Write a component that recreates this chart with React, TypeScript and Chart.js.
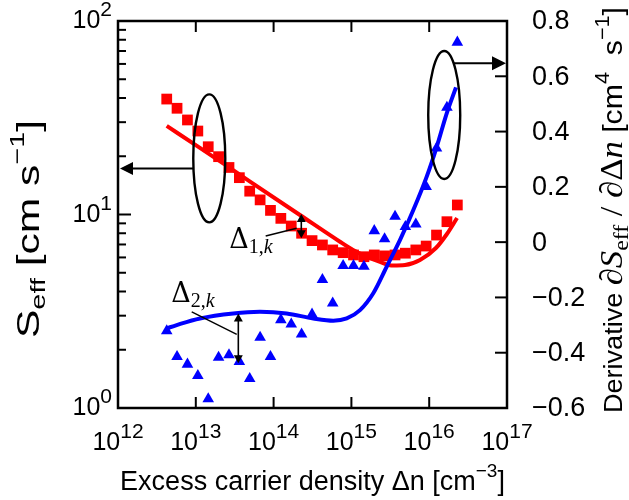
import { useEffect, useRef } from 'react';
import { Chart, registerables } from 'chart.js';

Chart.register(...registerables);

// Excess carrier density grid shared by both measured series [cm^-3]
const densities = [
  4.23e12, 5.74e12, 7.81e12, 1.062e13, 1.445e13, 1.963e13, 2.67e13, 3.63e13, 4.93e13, 6.71e13,
  9.12e13, 1.239e14, 1.686e14, 2.29e14, 3.12e14, 4.24e14, 5.75e14, 7.83e14, 1.064e15, 1.449e15,
  1.968e15, 2.67e15, 3.64e15, 4.94e15, 6.73e15, 9.14e15, 1.242e16, 1.69e16, 2.3e16,
];
// Effective surface recombination velocity S_eff [cm s^-1]
const seffMeasured = [
  39.5, 35.4, 30.8, 27.0, 22.4, 19.9, 17.5, 15.5, 13.2, 11.9,
  10.5, 9.55, 8.72, 8.0, 7.33, 6.96, 6.56, 6.35, 6.18, 6.05,
  6.18, 6.11, 6.18, 6.31, 6.56, 6.87, 7.83, 9.18, 11.2,
];
// Derivative dS_eff / dΔn [cm^4 s^-1]
const derivMeasured = [
  -0.321, -0.414, -0.442, -0.483, -0.567, -0.417, -0.408, -0.432, -0.494, -0.345,
  -0.414, -0.281, -0.297, -0.333, -0.261, -0.136, -0.221, -0.085, -0.085, -0.088,
  0.041, 0.012, 0.093, 0.056, 0.065, 0.201, 0.34, 0.487, 0.723,
];

// Model curves
const seffFitX = [4.23e12, 1.13e13, 4.98e13, 2.18e14, 7.13e14, 1.05e15, 1.5e15, 2.33e15, 3.43e15, 4.89e15, 7.62e15, 1.22e16, 1.69e16, 2.28e16];
const seffFitY = [28.7, 22.1, 14.8, 9.94, 7.23, 6.56, 6.11, 5.69, 5.45, 5.48, 5.82, 6.71, 7.93, 9.59];
const derivFitX = [4.23e12, 5.68e12, 1.13e13, 3.03e13, 6.68e13, 1.47e14, 3.24e14, 5.85e14, 8.71e14, 1.29e15, 1.91e15, 2.84e15, 4.22e15, 6.25e15, 9.29e15, 1.25e16, 1.68e16, 2.21e16];
const derivFitY = [-0.312, -0.3, -0.276, -0.258, -0.252, -0.258, -0.276, -0.284, -0.276, -0.246, -0.185, -0.089, 0.008, 0.116, 0.237, 0.345, 0.466, 0.56];

// Axis ticks
const xDecades = [12, 13, 14, 15, 16, 17];
const seffDecades = [0, 1, 2];
const derivTicks = [-0.6, -0.4, -0.2, 0, 0.2, 0.4, 0.6, 0.8];

// Annotation anchors (data coordinates)
const leftGroup = { x: 1.49e13, y: 19.5, arrowY: 17.3 };
const rightGroup = { x: 1.56e16, y: 0.46, arrowY: 0.647 };
const delta1 = { x: 2.27e14, top: 10.06, bottom: 7.53 };
const delta2 = { x: 3.52e13, top: -0.258, bottom: -0.438 };

const SANS = '"Liberation Sans", Arimo, Arial, sans-serif';
const SERIF = '"Liberation Serif", "DejaVu Serif", serif';
const DSERIF = '"DejaVu Serif", "Liberation Serif", serif';

type Run = { t: string; font: string; dy?: number };

function runsWidth(ctx: CanvasRenderingContext2D, runs: Run[]) {
  let w = 0;
  for (const r of runs) {
    ctx.font = r.font;
    w += ctx.measureText(r.t).width;
  }
  return w;
}

function drawRuns(ctx: CanvasRenderingContext2D, runs: Run[], x: number, y: number) {
  let cx = x;
  for (const r of runs) {
    ctx.font = r.font;
    ctx.fillText(r.t, cx, y + (r.dy || 0));
    cx += ctx.measureText(r.t).width;
  }
}

// draws a rotated title between two y positions (start at bottom, end at top)
function verticalTitle(ctx: CanvasRenderingContext2D, runs: Run[], x: number, yStart: number, yEnd: number) {
  const w = runsWidth(ctx, runs);
  const k = (yStart - yEnd) / w;
  ctx.save();
  ctx.translate(x, yStart);
  ctx.rotate(-Math.PI / 2);
  ctx.scale(k, 1);
  drawRuns(ctx, runs, 0, 0);
  ctx.restore();
}

function arrowHead(ctx: CanvasRenderingContext2D, tx: number, ty: number, dx: number, dy: number, len: number, half: number) {
  const n = Math.hypot(dx, dy);
  const ux = dx / n, uy = dy / n;
  const bx = tx - ux * len, by = ty - uy * len;
  ctx.beginPath();
  ctx.moveTo(tx, ty);
  ctx.lineTo(bx - uy * half, by + ux * half);
  ctx.lineTo(bx + uy * half, by - ux * half);
  ctx.closePath();
  ctx.fill();
}

function line(ctx: CanvasRenderingContext2D, x1: number, y1: number, x2: number, y2: number) {
  ctx.beginPath();
  ctx.moveTo(x1, y1);
  ctx.lineTo(x2, y2);
  ctx.stroke();
}

function doubleArrow(ctx: CanvasRenderingContext2D, x: number, top: number, bottom: number) {
  ctx.lineWidth = 1.6;
  line(ctx, x, top + 6, x, bottom - 6);
  arrowHead(ctx, x, top, 0, -1, 8, 4.5);
  arrowHead(ctx, x, bottom, 0, 1, 8, 4.5);
}

function deltaLabel(ctx: CanvasRenderingContext2D, idx: string, x: number, y: number) {
  drawRuns(ctx, [
    { t: 'Δ', font: `27px ${DSERIF}` },
    { t: idx + ',', font: `20px ${SERIF}`, dy: 5 },
    { t: 'k', font: `italic 20px ${SERIF}`, dy: 5 },
  ], x, y);
}

const decoratePlugin = {
  id: 'decorate',
  afterDraw(chart: any) {
    const { ctx, chartArea: a, scales } = chart;
    const sx = scales.x, sy = scales.y, sy2 = scales.y2;
    ctx.save();
    ctx.strokeStyle = '#000';
    ctx.fillStyle = '#000';
    ctx.lineCap = 'butt';

    // frame
    ctx.lineWidth = 2.5;
    ctx.strokeRect(a.left, a.top, a.right - a.left, a.bottom - a.top);

    // bottom / top ticks
    ctx.lineWidth = 2;
    for (const d of xDecades) {
      const px = sx.getPixelForValue(Math.pow(10, d));
      if (px > a.left + 2 && px < a.right - 2) {
        line(ctx, px, a.bottom, px, a.bottom - 11);
        line(ctx, px, a.top, px, a.top + 11);
      }
    }
    // left log ticks
    for (let d = 0; d < seffDecades.length - 1; d++) {
      for (let m = 1; m <= 9; m++) {
        const py = sy.getPixelForValue(m * Math.pow(10, seffDecades[d]));
        if (py < a.bottom - 2) line(ctx, a.left, py, a.left + (m === 1 ? 13 : 8), py);
      }
    }
    // right linear ticks
    for (const v of derivTicks) {
      const py = sy2.getPixelForValue(v);
      if (py > a.top + 2 && py < a.bottom - 2) line(ctx, a.right, py, a.right - 12, py);
    }

    // tick labels
    ctx.textBaseline = 'alphabetic';
    ctx.textAlign = 'left';
    for (const d of xDecades) {
      const px = sx.getPixelForValue(Math.pow(10, d));
      const runs: Run[] = [
        { t: '10', font: `25px ${SANS}` },
        { t: String(d), font: `21px ${SANS}`, dy: -12 },
      ];
      const w = runsWidth(ctx, runs);
      drawRuns(ctx, runs, px - w / 2, 450);
    }
    for (const d of seffDecades) {
      const py = sy.getPixelForValue(Math.pow(10, d));
      const runs: Run[] = [
        { t: '10', font: `25px ${SANS}` },
        { t: String(d), font: `21px ${SANS}`, dy: -12 },
      ];
      const w = runsWidth(ctx, runs);
      drawRuns(ctx, runs, 112 - w, py + 7);
    }
    ctx.font = `27px ${SANS}`;
    ctx.textBaseline = 'middle';
    for (const v of derivTicks) {
      const py = sy2.getPixelForValue(v);
      const s = v === 0 ? '0' : (v < 0 ? '\u2212' : '') + Math.abs(v).toFixed(1);
      ctx.fillText(s, 532, py + 1);
    }
    ctx.textBaseline = 'alphabetic';

    // axis titles
    const xTitle: Run[] = [
      { t: 'Excess carrier density Δn [cm', font: `27px ${SANS}` },
      { t: '\u22123', font: `19px ${SANS}`, dy: -13 },
      { t: ']', font: `27px ${SANS}` },
    ];
    const xw = runsWidth(ctx, xTitle);
    drawRuns(ctx, xTitle, (a.left + a.right) / 2 - xw / 2, 490);

    const yTitle: Run[] = [
      { t: 'S', font: `31px ${SANS}` },
      { t: 'eff', font: `21px ${SANS}`, dy: 6 },
      { t: ' [cm s', font: `31px ${SANS}` },
      { t: '\u22121', font: `21px ${SANS}`, dy: -15 },
      { t: ']', font: `31px ${SANS}` },
    ];
    verticalTitle(ctx, yTitle, 39, 338, 120);

    const y2Title: Run[] = [
      { t: 'Derivative ', font: `25px ${SANS}` },
      { t: '∂S', font: `italic 32px ${SERIF}` },
      { t: 'eff', font: `22px ${SERIF}`, dy: 6 },
      { t: ' / ', font: `32px ${SERIF}` },
      { t: '∂', font: `italic 32px ${SERIF}` },
      { t: 'Δ', font: `32px ${SERIF}` },
      { t: 'n', font: `italic 32px ${SERIF}` },
      { t: ' [cm', font: `28px ${SANS}` },
      { t: '4', font: `20px ${SANS}`, dy: -13 },
      { t: '  s', font: `28px ${SANS}` },
      { t: '\u22121', font: `20px ${SANS}`, dy: -13 },
      { t: ']', font: `28px ${SANS}` },
    ];
    verticalTitle(ctx, y2Title, 622, 413, 7);

    // grouping ellipses with arrows pointing to the relevant axis
    const rx = 16, ry = 64;
    ctx.lineWidth = 2.4;
    const lcx = sx.getPixelForValue(leftGroup.x), lcy = sy.getPixelForValue(leftGroup.y);
    ctx.beginPath();
    ctx.ellipse(lcx, lcy, rx, ry, 0, 0, Math.PI * 2);
    ctx.stroke();
    const lay = sy.getPixelForValue(leftGroup.arrowY);
    const lax = lcx - rx * Math.sqrt(1 - Math.pow((lay - lcy) / ry, 2));
    ctx.lineWidth = 2;
    line(ctx, lax, lay, a.left + 12, lay);
    arrowHead(ctx, a.left + 2, lay, -1, 0, 13, 6.5);

    ctx.lineWidth = 2.4;
    const rcx = sx.getPixelForValue(rightGroup.x), rcy = sy2.getPixelForValue(rightGroup.y);
    ctx.beginPath();
    ctx.ellipse(rcx, rcy, rx, ry, 0, 0, Math.PI * 2);
    ctx.stroke();
    const ray = sy2.getPixelForValue(rightGroup.arrowY);
    const rax = rcx + rx * Math.sqrt(1 - Math.pow((ray - rcy) / ry, 2));
    ctx.lineWidth = 2;
    line(ctx, rax, ray, a.right - 12, ray);
    arrowHead(ctx, a.right - 1, ray, 1, 0, 14, 7);

    // deviation markers
    const d1x = sx.getPixelForValue(delta1.x);
    const d1t = sy.getPixelForValue(delta1.top), d1b = sy.getPixelForValue(delta1.bottom);
    doubleArrow(ctx, d1x, d1t, d1b);
    ctx.lineWidth = 1.4;
    line(ctx, d1x - 35.6, d1t + 22, d1x - 4.6, d1t + 14.3);
    deltaLabel(ctx, '1', d1x - 72, d1t + 34.3);

    const d2x = sx.getPixelForValue(delta2.x);
    const d2t = sy2.getPixelForValue(delta2.top), d2b = sy2.getPixelForValue(delta2.bottom);
    doubleArrow(ctx, d2x, d2t, d2b);
    ctx.lineWidth = 1.4;
    line(ctx, d2x - 46.6, d2t - 1.6, d2x - 1.6, d2t + 21);
    deltaLabel(ctx, '2', d2x - 67, d2t - 11.6);

    ctx.restore();
  },
};

export default function App() {
  const canvasRef = useRef<HTMLCanvasElement | null>(null);

  useEffect(() => {
    const canvas = canvasRef.current;
    if (!canvas) return;
    const chart = new Chart(canvas, {
      type: 'line',
      data: {
        datasets: [
          {
            label: 'dS/dΔn fit',
            data: derivFitX.map((x, i) => ({ x, y: derivFitY[i] })),
            yAxisID: 'y2',
            borderColor: '#0000ff',
            borderWidth: 4,
            pointRadius: 0,
            cubicInterpolationMode: 'monotone',
            fill: false,
            order: 0,
          },
          {
            label: 'dS/dΔn',
            data: densities.map((x, i) => ({ x, y: derivMeasured[i] })),
            yAxisID: 'y2',
            showLine: false,
            pointStyle: 'triangle',
            pointRadius: 6.7,
            pointBackgroundColor: '#0000ff',
            pointBorderWidth: 0,
            order: 1,
          },
          {
            label: 'S_eff fit',
            data: seffFitX.map((x, i) => ({ x, y: seffFitY[i] })),
            yAxisID: 'y',
            borderColor: '#ff0000',
            borderWidth: 4,
            pointRadius: 0,
            cubicInterpolationMode: 'monotone',
            fill: false,
            order: 2,
          },
          {
            label: 'S_eff',
            data: densities.map((x, i) => ({ x, y: seffMeasured[i] })),
            yAxisID: 'y',
            showLine: false,
            pointStyle: 'rect',
            pointRadius: 7.6,
            pointBackgroundColor: '#ff0000',
            pointBorderWidth: 0,
            order: 3,
          },
        ],
      },
      options: {
        animation: false,
        responsive: false,
        events: [],
        layout: { padding: { left: 118, top: 21, right: 122, bottom: 92 } },
        scales: {
          x: { type: 'logarithmic', min: 1e12, max: 1e17, display: false },
          y: { type: 'logarithmic', min: 1, max: 100, display: false },
          y2: { type: 'linear', min: -0.6, max: 0.8, display: false },
        },
        plugins: { legend: { display: false }, tooltip: { enabled: false } },
      },
      plugins: [decoratePlugin],
    });
    return () => chart.destroy();
  }, []);

  return (
    <div style={{ position: 'absolute', left: 0, top: 0, width: 629, height: 500, background: '#fff' }}>
      <canvas ref={canvasRef} width={629} height={500} style={{ display: 'block' }} />
    </div>
  );
}
